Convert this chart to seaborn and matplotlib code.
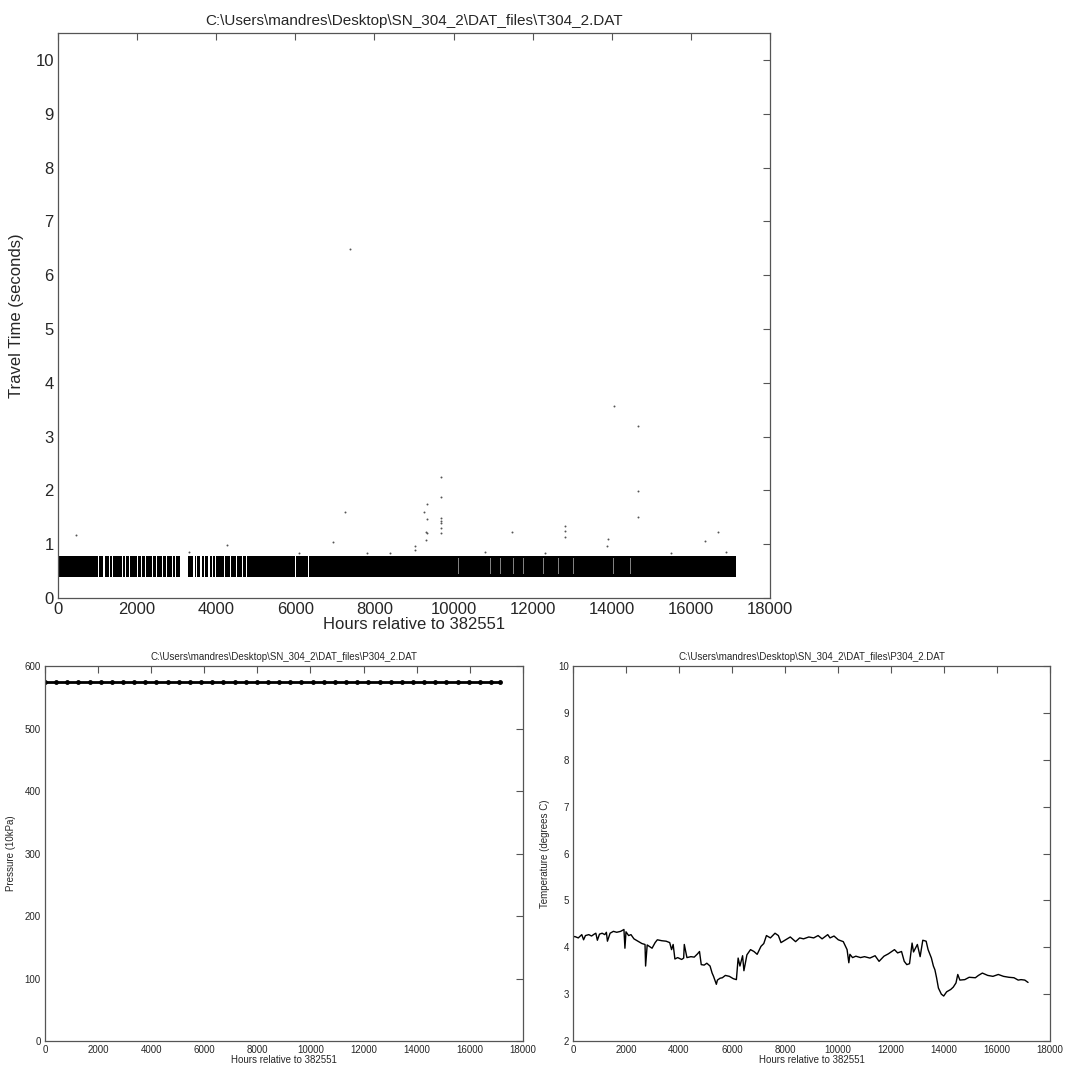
import numpy as np
import matplotlib
matplotlib.use('Agg')
import matplotlib.pyplot as plt
import seaborn as sns

# travel time: dense band of hourly readings plus scattered outliers
band_start = 0
band_end = 17150
band_low = 0.40
band_high = 0.79
# white streaks inside the band (hour where it starts, width in hours)
gap_start = [1020, 1146, 1300, 1357, 1480, 1610, 1694, 1800, 1989, 2100, 2199, 2368, 2480,
             2620, 2740, 2873, 2960, 3084, 3421, 3500, 3590, 3700, 3800, 3890, 3969, 4196,
             4348, 4500, 4643, 4760, 4896, 5148, 5401, 5654, 5991, 6328, 6665]
gap_width = [25, 30, 20, 40, 20, 35, 30, 20, 45, 20, 35, 30, 20,
             35, 20, 45, 30, 200, 35, 20, 40, 25, 35, 20, 30, 35,
             30, 20, 25, 20, 20, 18, 18, 15, 15, 12, 12]
# faint streaks later in the record
faint_start = [9620, 10111, 10330, 10583, 10920, 11173, 11502, 11755, 11974, 12100, 12260,
               12640, 13020, 13270, 13617, 14030, 14460, 14880]
faint_width = [15, 15, 15, 20, 20, 15, 20, 15, 20, 15, 15, 15, 15, 15, 15, 15, 15, 15]

out_hours = [447, 4265, 6947, 7261, 7382, 9028, 9037, 9248, 9302, 9302, 9341, 9341, 9341,
             9686, 9686, 9686, 9686, 9686, 9686, 9686, 11489, 12816, 12816, 12816, 13880,
             13913, 14050, 14674, 14674, 14674, 16360, 16680, 6100, 8400, 10800, 12300,
             15500, 16900, 7800, 3300]
out_tt = [1.17, 0.99, 1.05, 1.60, 6.48, 0.96, 0.90, 1.59, 1.22, 1.07, 1.75, 1.47, 1.21,
          2.25, 1.87, 1.49, 1.44, 1.40, 1.30, 1.20, 1.23, 1.34, 1.25, 1.14, 0.97,
          1.10, 3.57, 3.19, 1.98, 1.50, 1.06, 1.22, 0.84, 0.83, 0.85, 0.84,
          0.83, 0.85, 0.84, 0.86]

# pressure record
p_hours = [0, 420, 840, 1260, 1680, 2100, 2520, 2940, 3360, 3780, 4200, 4620, 5040, 5460,
           5880, 6300, 6720, 7140, 7560, 7980, 8400, 8820, 9240, 9660, 10080, 10500, 10920,
           11340, 11760, 12180, 12600, 13020, 13440, 13860, 14280, 14700, 15120, 15540,
           15960, 16380, 16800, 17150]
p_vals = [575] * len(p_hours)

# temperature record
t_hours = [0, 66, 200, 332, 400, 470, 597, 700, 800, 862, 920, 1000, 1100, 1200, 1260, 1300,
           1400, 1525, 1650, 1800, 1923, 1960, 2000, 2100, 2188, 2300, 2453, 2600, 2718,
           2740, 2800, 2984, 3100, 3183, 3350, 3514, 3650, 3720, 3780, 3846, 3950, 4100,
           4177, 4200, 4300, 4450, 4575, 4700, 4774, 4840, 4950, 5050, 5172, 5250, 5304,
           5410, 5450, 5550, 5636, 5750, 5901, 6050, 6166, 6232, 6300, 6400, 6450, 6564,
           6700, 6829, 6950, 7094, 7200, 7300, 7359, 7450, 7624, 7750, 7850, 8022, 8200,
           8400, 8553, 8700, 8900, 9083, 9250, 9400, 9613, 9700, 9850, 10011, 10200,
           10343, 10409, 10450, 10550, 10674, 10850, 11000, 11204, 11400, 11550, 11735,
           11900, 12000, 12132, 12250, 12398, 12500, 12597, 12700, 12796, 12850, 12995,
           13100, 13200, 13326, 13400, 13525, 13600, 13657, 13720, 13790, 13900, 13989,
           14100, 14254, 14350, 14453, 14520, 14600, 14785, 14950, 15183, 15300, 15448,
           15650, 15846, 16050, 16244, 16450, 16642, 16800, 16907, 17050, 17172]
t_vals = [4.22, 4.23, 4.20, 4.27, 4.16, 4.25, 4.27, 4.24, 4.28, 4.30, 4.15, 4.28, 4.30, 4.27,
          4.32, 4.13, 4.30, 4.34, 4.32, 4.34, 4.38, 3.98, 4.33, 4.25, 4.27, 4.18, 4.13, 4.08,
          4.06, 3.60, 4.05, 3.98, 4.10, 4.16, 4.14, 4.13, 4.10, 3.95, 4.06, 3.75, 3.78, 3.74,
          3.77, 4.06, 3.78, 3.80, 3.79, 3.86, 3.91, 3.63, 3.62, 3.66, 3.60, 3.45, 3.38,
          3.21, 3.30, 3.34, 3.35, 3.40, 3.38, 3.33, 3.31, 3.77, 3.60, 3.82, 3.50, 3.84,
          3.95, 3.91, 3.85, 4.02, 4.08, 4.25, 4.23, 4.20, 4.30, 4.25, 4.10, 4.16, 4.22,
          4.12, 4.20, 4.18, 4.22, 4.20, 4.25, 4.18, 4.27, 4.20, 4.24, 4.16, 4.12,
          3.95, 3.67, 3.85, 3.78, 3.81, 3.78, 3.80, 3.77, 3.82, 3.70, 3.81,
          3.86, 3.90, 3.95, 3.88, 3.91, 3.70, 3.63, 3.65, 4.09, 3.90, 4.06,
          3.80, 4.15, 4.13, 3.95, 3.77, 3.60, 3.52, 3.35, 3.13, 3.00, 2.96,
          3.05, 3.10, 3.15, 3.24, 3.42, 3.30, 3.31, 3.36, 3.35, 3.40, 3.45,
          3.40, 3.38, 3.42, 3.38, 3.36, 3.35, 3.30, 3.31, 3.30, 3.25]

sns.set_style('white')
plt.rcParams['font.family'] = ['Liberation Sans', 'DejaVu Sans']

fig = plt.figure(figsize=(10.7, 10.76), dpi=100)
ax1 = fig.add_axes([0.0542, 0.4442, 0.6654, 0.5251])
ax2 = fig.add_axes([0.042, 0.0325, 0.4467, 0.3485])
ax3 = fig.add_axes([0.5355, 0.0325, 0.4458, 0.3485])

title = 'C:\\Users\\mandres\\Desktop\\SN_304_2\\DAT_files\\'
xlab = 'Hours relative to 382551'


def style(ax, fs):
    for s in ax.spines.values():
        s.set_color('#555555')
        s.set_linewidth(0.9)
    ax.tick_params(direction='in', top=True, right=True, length=5, width=0.8,
                   color='#555555', labelsize=fs, pad=3)


# 1) travel time
seg_start = [band_start] + [g + w for g, w in zip(gap_start, gap_width)]
seg_end = gap_start + [band_end]
seg_start = np.array(seg_start)
seg_end = np.array(seg_end)
ax1.bar(seg_start, band_high - band_low, bottom=band_low, width=seg_end - seg_start,
        align='edge', color='black', linewidth=0)
ax1.bar(faint_start, band_high - band_low - 0.1, bottom=band_low + 0.05, width=faint_width,
        align='edge', color='#808080', linewidth=0)
sns.scatterplot(x=out_hours, y=out_tt, ax=ax1, s=2, color='#555555', linewidth=0)
ax1.set_xlim(0, 18000)
ax1.set_ylim(0, 10.5)
ax1.set_xticks(range(0, 18001, 2000))
ax1.set_yticks(range(0, 11))
ax1.set_title(title + 'T304_2.DAT', fontsize=11, pad=6)
ax1.set_xlabel(xlab, fontsize=12, labelpad=0)
ax1.set_ylabel('Travel Time (seconds)', fontsize=12, labelpad=8)
style(ax1, 12)

# 2) pressure
sns.lineplot(x=p_hours, y=p_vals, ax=ax2, color='black', linewidth=2, marker='o',
             markersize=3.5, markeredgewidth=0)
ax2.set_xlim(0, 18000)
ax2.set_ylim(0, 600)
ax2.set_xticks(range(0, 18001, 2000))
ax2.set_title(title + 'P304_2.DAT', fontsize=7, pad=4)
ax2.set_xlabel(xlab, fontsize=7, labelpad=0)
ax2.set_ylabel('Pressure (10kPa)', fontsize=7, labelpad=6)
style(ax2, 7)

# 3) temperature
sns.lineplot(x=t_hours, y=t_vals, ax=ax3, color='black', linewidth=1)
ax3.set_xlim(0, 18000)
ax3.set_ylim(2, 10)
ax3.set_xticks(range(0, 18001, 2000))
ax3.set_title(title + 'P304_2.DAT', fontsize=7, pad=4)
ax3.set_xlabel(xlab, fontsize=7, labelpad=0)
ax3.set_ylabel('Temperature (degrees C)', fontsize=7, labelpad=6)
style(ax3, 7)

fig.savefig('out.png', dpi=100)
